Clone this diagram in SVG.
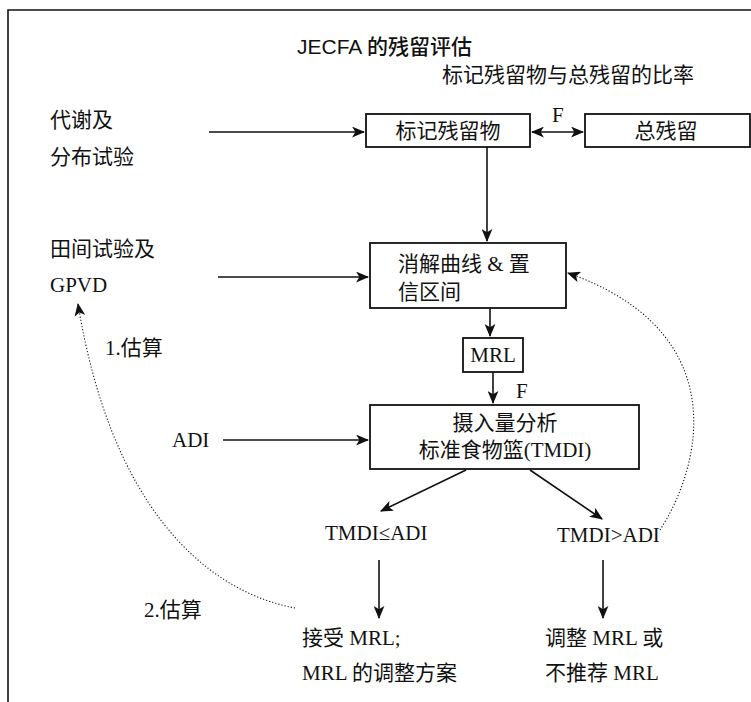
<svg xmlns="http://www.w3.org/2000/svg" width="751" height="702" viewBox="0 0 751 702">
<defs>
<style>
.t{font-family:"Liberation Serif","Noto Sans CJK SC",serif;font-size:21px;fill:#111}
.h{font-family:"Liberation Sans","Noto Sans CJK SC",sans-serif;font-size:21px;font-weight:500;fill:#111}
.box{fill:#fff;stroke:#111;stroke-width:1.8}
.ln{fill:none;stroke:#111;stroke-width:1.6}
.dt{fill:none;stroke:#111;stroke-width:1.1;stroke-dasharray:1.2 2}
.c{text-anchor:middle}
</style>
<marker id="ah" viewBox="0 0 12 10" refX="11" refY="5" markerWidth="13" markerHeight="11" markerUnits="userSpaceOnUse" orient="auto-start-reverse">
<path d="M0,0 L12,5 L0,10 L3,5 z" fill="#111"/>
</marker>
</defs>
<rect width="751" height="702" fill="#fff"/>
<g id="frame"><path d="M8,702 V10 H751" class="ln"/></g>
<g id="title">
<text class="h" x="297" y="54">JECFA 的残留评估</text>
<text class="t" x="442" y="82">标记残留物与总残留的比率</text>
</g>
<g id="in1"><text class="t" x="50" y="127">代谢及</text><text class="t" x="50" y="164">分布试验</text></g>
<g id="marker"><rect class="box" x="366" y="114" width="164" height="33"/><text class="t c" x="448" y="138">标记残留物</text></g>
<g id="total"><rect class="box" x="585" y="114" width="165" height="33"/><text class="t c" x="666" y="138">总残留</text></g>
<g id="in2"><text class="t" x="50" y="256">田间试验及</text><text class="t" x="50" y="292">GPVD</text></g>
<g id="decay"><rect class="box" x="370" y="243" width="196" height="65"/><text class="t" x="398" y="271">消解曲线 &amp; 置</text><text class="t" x="398" y="299">信区间</text></g>
<g id="mrl"><rect class="box" x="463" y="338" width="60" height="34"/><text class="t c" x="493" y="362">MRL</text></g>
<g id="intake"><rect class="box" x="370" y="405" width="269" height="64"/><text class="t c" x="505" y="430">摄入量分析</text><text class="t c" x="505" y="457">标准食物篮(TMDI)</text></g>
<g id="adi"><text class="t" x="172" y="447">ADI</text></g>
<g id="le"><text class="t" x="325" y="540">TMDI≤ADI</text></g>
<g id="gt"><text class="t" x="557" y="542">TMDI&gt;ADI</text></g>
<g id="accept"><text class="t" x="302" y="645">接受 MRL;</text><text class="t" x="302" y="680">MRL 的调整方案</text></g>
<g id="adjust"><text class="t" x="545" y="645">调整 MRL 或</text><text class="t" x="545" y="680">不推荐 MRL</text></g>
<g id="labels">
<text class="t" x="552" y="122">F</text>
<text class="t" x="516" y="398">F</text>
<text class="t" x="105" y="355">1.估算</text>
<text class="t" x="144" y="617">2.估算</text>
</g>
<g id="connectors">
<path class="ln" d="M209,132 H364" marker-end="url(#ah)"/>
<path class="ln" d="M532,132 H583" marker-start="url(#ah)" marker-end="url(#ah)"/>
<path class="ln" d="M487,147 V241" marker-end="url(#ah)"/>
<path class="ln" d="M218,277 H368" marker-end="url(#ah)"/>
<path class="ln" d="M490,308 V336" marker-end="url(#ah)"/>
<path class="ln" d="M493,372 V403" marker-end="url(#ah)"/>
<path class="ln" d="M223,440 H368" marker-end="url(#ah)"/>
<path class="ln" d="M466,470 L381,511" marker-end="url(#ah)"/>
<path class="ln" d="M530,470 L602,519" marker-end="url(#ah)"/>
<path class="ln" d="M379,560 V618" marker-end="url(#ah)"/>
<path class="ln" d="M603,560 V618" marker-end="url(#ah)"/>
<path class="dt" d="M295,608 C200,590 110,500 78,304" marker-end="url(#ah)"/>
<path class="dt" d="M660,530 C705,460 730,330 568,273" marker-end="url(#ah)"/>
</g>
</svg>
